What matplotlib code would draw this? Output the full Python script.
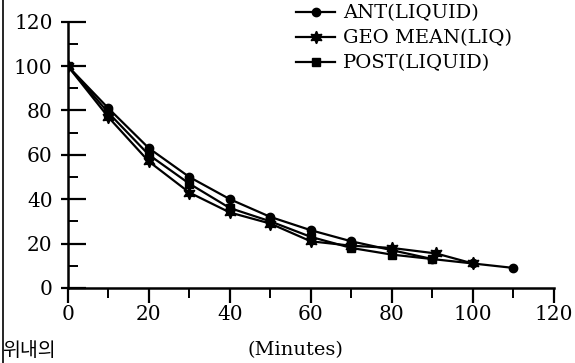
import matplotlib
matplotlib.use("Agg")
import matplotlib.pyplot as plt
from matplotlib.lines import Line2D
from matplotlib.ticker import MultipleLocator

# minutes
ant_x = [0, 10, 20, 30, 40, 50, 60, 70, 80, 90, 100, 110]
ant_y = [100, 81, 63, 50, 40, 32, 26, 21, 17, 13, 11, 9]

geo_x = [0, 10, 20, 30, 40, 50, 60, 70, 80, 91, 100]
geo_y = [100, 77, 57, 43, 34, 29, 21, 19, 18, 15.5, 11]

post_x = [0, 10, 20, 30, 40, 50, 60, 70, 80, 90]
post_y = [100, 79, 60, 47, 36, 30, 23, 18, 15, 13]

labels = ["ANT(LIQUID)", "GEO MEAN(LIQ)", "POST(LIQUID)"]
yticks = [0, 20, 40, 60, 80, 100, 120]
xticks = [0, 20, 40, 60, 80, 100, 120]

plt.rcParams['font.family'] = ['DejaVu Serif']

fig = plt.figure(figsize=(5.75, 3.63), dpi=100)
ax = fig.add_axes([0.118, 0.207, 0.845, 0.733])

ax.plot(ant_x, ant_y, color="black", lw=1.6, marker="o", ms=6, label=labels[0])
ax.plot(geo_x, geo_y, color="black", lw=1.6, marker=(6, 1, 0), ms=9, label=labels[1])
ax.plot(post_x, post_y, color="black", lw=1.6, marker="s", ms=5.5, label=labels[2])

ax.set_xlim(0, 120)
ax.set_ylim(0, 120)
ax.set_xticks(xticks)
ax.set_yticks(yticks)
ax.xaxis.set_minor_locator(MultipleLocator(10))
ax.yaxis.set_minor_locator(MultipleLocator(10))

for s in ["top", "right"]:
    ax.spines[s].set_visible(False)
for s in ["left", "bottom"]:
    ax.spines[s].set_linewidth(1.8)

ax.tick_params(axis="y", which="major", direction="in", length=13, width=1.6, pad=11, labelsize=14.5)
ax.tick_params(axis="y", which="minor", direction="in", length=7, width=1.4)
ax.tick_params(axis="x", which="major", direction="out", length=11, width=1.6, pad=1, labelsize=14.5)
ax.tick_params(axis="x", which="minor", direction="out", length=7, width=1.4)

# short outward stubs on the y axis
sec = ax.secondary_yaxis("left")
sec.set_yticks(yticks)
sec.tick_params(direction="out", length=5, width=1.6, labelleft=False)
sec.spines["left"].set_visible(False)

leg = ax.legend(loc="upper left", bbox_to_anchor=(0.515, 0.988), bbox_transform=fig.transFigure,
                frameon=False, fontsize=14, handlelength=2.0, handletextpad=0.4,
                labelspacing=0.36, borderpad=0, borderaxespad=0)

fig.text(0.513, 0.036, "(Minutes)", ha="center", va="center", fontsize=14)
fig.text(0.004, 0.034, "위내의", ha="left", va="center", fontsize=14,
         family=["Noto Sans CJK KR", "DejaVu Sans"])
fig.add_artist(Line2D([0.005, 0.005], [0.0, 1.0], transform=fig.transFigure, color="black", lw=1.2))

fig.savefig("out.png", dpi=100)
